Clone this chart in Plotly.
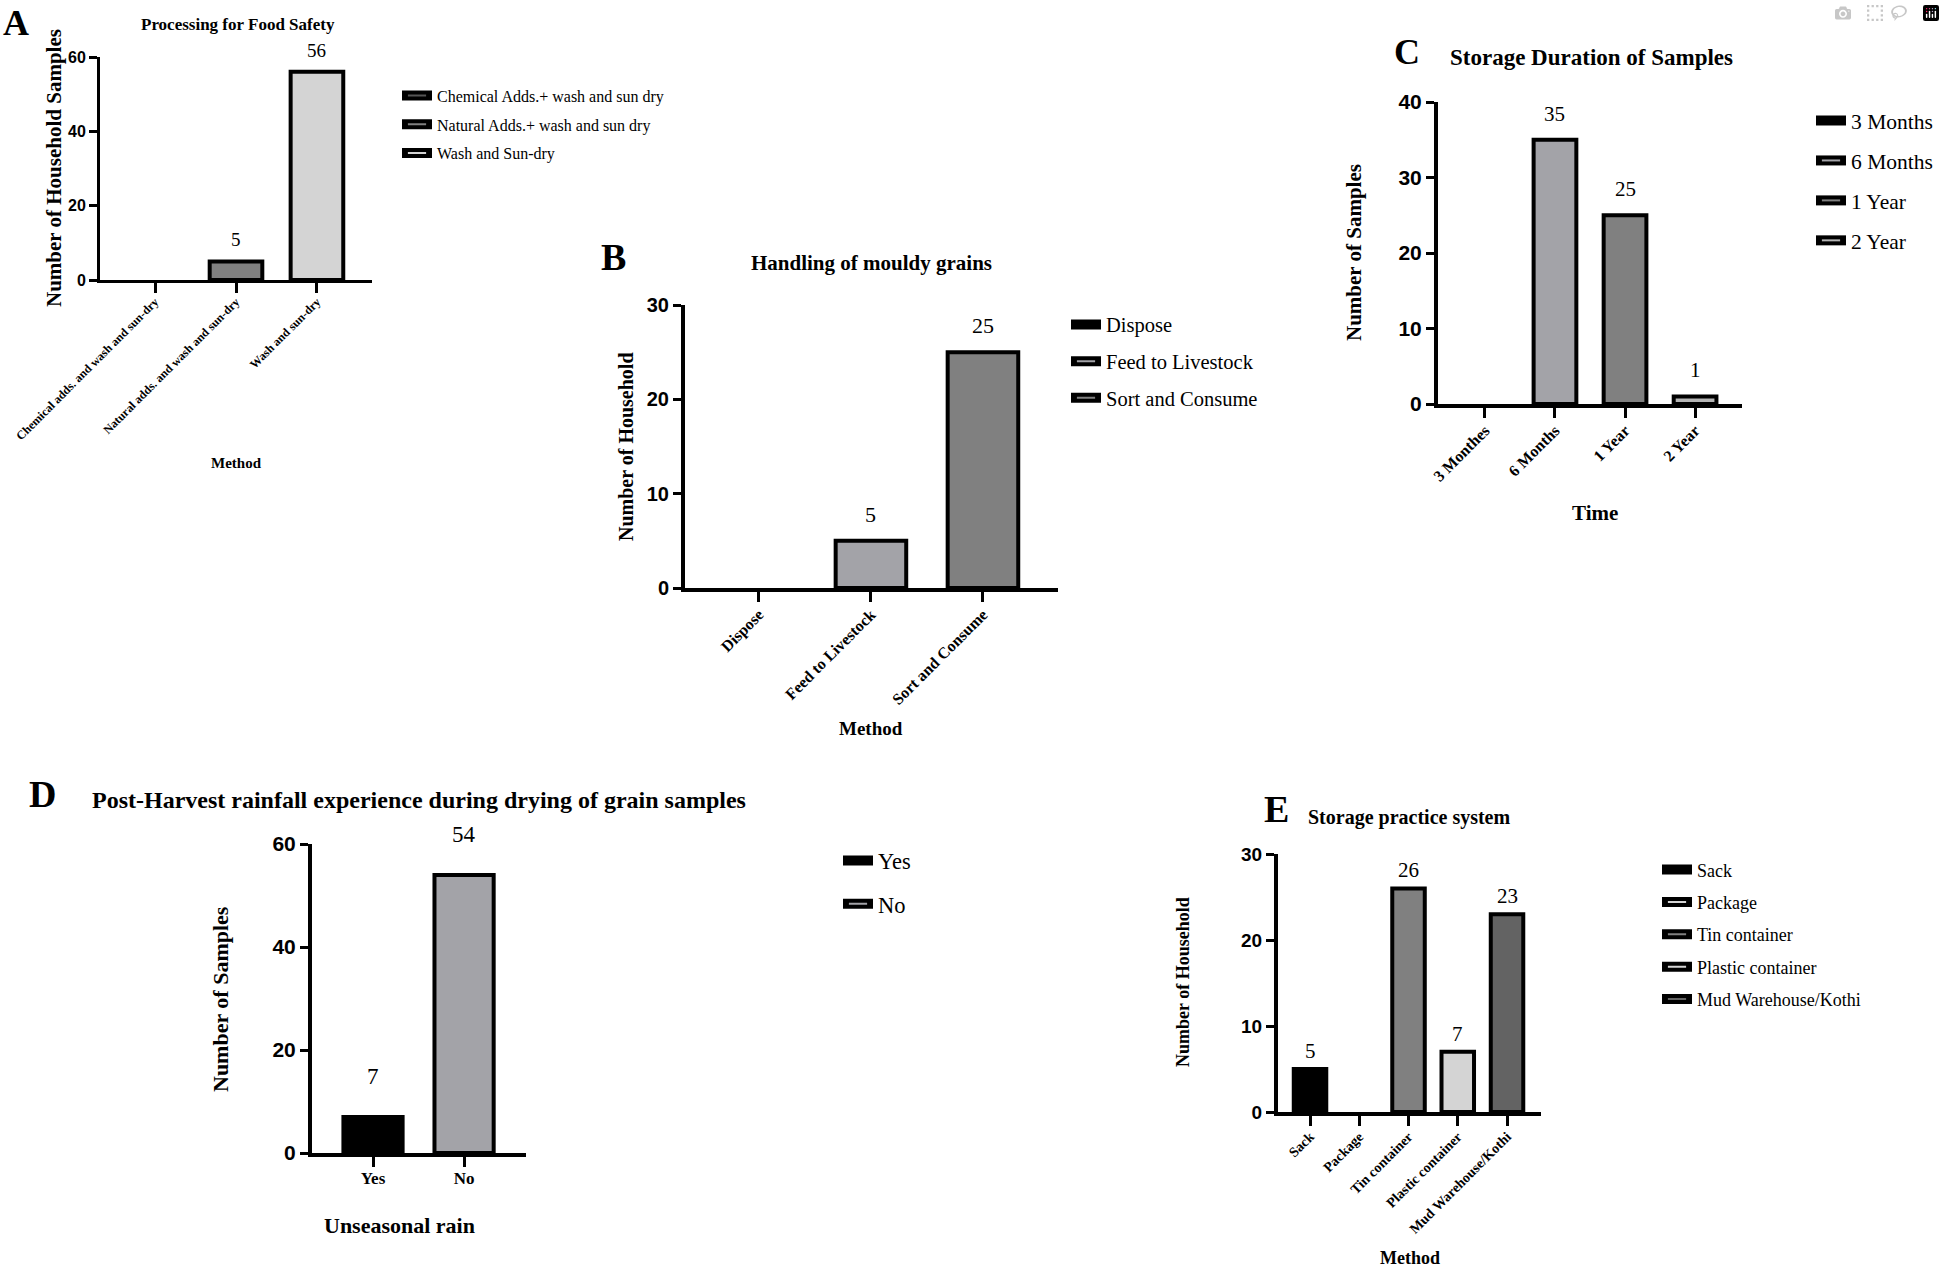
import plotly.graph_objects as go

W, H = 1945, 1265
SERIF = "Liberation Serif, Times New Roman, serif"
SANS = "Liberation Sans, Arial, sans-serif"

# A - processing for food safety
a_methods = ["Chemical adds. and wash and sun-dry", "Natural adds. and wash and sun-dry", "Wash and sun-dry"]
a_counts = [0, 5, 56]
a_legend = ["Chemical Adds.+ wash and sun dry", "Natural Adds.+ wash and sun dry", "Wash and Sun-dry"]
a_colors = ["#555555", "#808080", "#d4d4d4"]

# B - handling of mouldy grains
b_methods = ["Dispose", "Feed to Livestock", "Sort and Consume"]
b_counts = [0, 5, 25]
b_colors = ["#000000", "#a3a3a8", "#808080"]

# C - storage duration
c_times = ["3 Monthes", "6 Months", "1 Year", "2 Year"]
c_counts = [0, 35, 25, 1]
c_legend = ["3 Months", "6 Months", "1 Year", "2 Year"]
c_colors = ["#000000", "#a3a3a8", "#808080", "#b4b4b4"]

# D - unseasonal rain
d_answers = ["Yes", "No"]
d_counts = [7, 54]
d_colors = ["#000000", "#a3a3a8"]

# E - storage practice
e_methods = ["Sack", "Package", "Tin container", "Plastic container", "Mud Warehouse/Kothi"]
e_counts = [5, 0, 26, 7, 23]
e_colors = ["#000000", "#d4d4d4", "#808080", "#d4d4d4", "#636363"]


def px(x):
    return x / W


def py(y):
    return 1 - y / H


panels = [
    dict(letter="A", title="Processing for Food Safety", ytitle="Number of Household Samples", xtitle="Method",
         cats=a_methods, vals=a_counts, colors=a_colors, legend=a_legend,
         dx=(100, 372), dy=(57, 280), xr=[-0.68, 2.68], ymax=60, dtick=20, bw=0.65, angle=-45, lw=3,
         xfs=12, yfs=16, lfs=19, shift=9, leg=(397, 94, 16, 5),
         let_pos=(16, 1, 36), tit_pos=(238, 25, 17), yt_pos=(54, 168, 21), xt_pos=(236, 463, 15)),
    dict(letter="B", title="Handling of mouldy grains", ytitle="Number of Household", xtitle="Method",
         cats=b_methods, vals=b_counts, colors=b_colors, legend=b_methods,
         dx=(685, 1058), dy=(305, 588), xr=[-0.66, 2.67], ymax=30, dtick=10, bw=0.63, angle=-45, lw=4,
         xfs=16, yfs=20, lfs=22, shift=12, leg=(1066, 323, 20.5, 7),
         let_pos=(613, 257, 38), tit_pos=(871, 263, 21), yt_pos=(626, 447, 20), xt_pos=(871, 728, 19)),
    dict(letter="C", title="Storage Duration of Samples", ytitle="Number of Samples", xtitle="Time",
         cats=c_times, vals=c_counts, colors=c_colors, legend=c_legend,
         dx=(1438, 1742), dy=(102, 404), xr=[-0.67, 3.67], ymax=40, dtick=10, bw=0.61, angle=-45, lw=4,
         xfs=16, yfs=21, lfs=21, shift=12, leg=(1811, 119, 21.5, 9),
         let_pos=(1407, 52, 36), tit_pos=(1591, 58, 23), yt_pos=(1354, 253, 21), xt_pos=(1595, 513, 21)),
    dict(letter="D", title="Post-Harvest rainfall experience during drying of grain samples",
         ytitle="Number of Samples", xtitle="Unseasonal rain",
         cats=d_answers, vals=d_counts, colors=d_colors, legend=d_answers,
         dx=(312, 526), dy=(844, 1153), xr=[-0.67, 1.68], ymax=60, dtick=20, bw=0.65, angle=0, lw=4,
         xfs=17, yfs=21, lfs=23, shift=26, leg=(838, 859, 22.5, 11),
         let_pos=(42, 794, 38), tit_pos=(419, 800, 24), yt_pos=(220, 999, 22), xt_pos=(399, 1225, 22)),
    dict(letter="E", title="Storage practice system", ytitle="Number of Household", xtitle="Method",
         cats=e_methods, vals=e_counts, colors=e_colors, legend=e_methods,
         dx=(1278, 1541), dy=(854, 1112), xr=[-0.65, 4.69], ymax=30, dtick=10, bw=0.66, angle=-45, lw=4,
         xfs=14, yfs=19, lfs=21, shift=4, leg=(1657, 868, 18, 6),
         let_pos=(1276, 809, 38), tit_pos=(1409, 817, 20), yt_pos=(1183, 982, 18), xt_pos=(1410, 1258, 18)),
]

fig = go.Figure()
layout = {}

for n, p in enumerate(panels, start=1):
    sfx = "" if n == 1 else str(n)
    xa, ya = "x" + sfx, "y" + sfx
    leg_id = "legend" + sfx

    # zero counts are left out so no flat bar is drawn on the axis
    fig.add_trace(go.Bar(
        x=p["cats"], y=[v if v else None for v in p["vals"]], width=p["bw"],
        marker=dict(color=p["colors"], line=dict(color="black", width=4)),
        xaxis=xa, yaxis=ya, showlegend=False,
    ))

    # legend swatches: thick black bar with a thin line of the fill colour
    for name, col in zip(p["legend"], p["colors"]):
        fig.add_trace(go.Scatter(
            x=[None], y=[None], mode="lines+markers", name=name,
            line=dict(color="black", width=10),
            marker=dict(symbol="line-ew-open", size=13, color=col, line=dict(color=col, width=2)),
            xaxis=xa, yaxis=ya, legend=leg_id, legendgroup=name + sfx, hoverinfo="skip",
        ))

    lx, ly, lfs, gap = p["leg"]
    layout[leg_id] = dict(
        x=px(lx), y=py(ly - 5 - 0.65 * lfs), xanchor="left", yanchor="top",
        bgcolor="rgba(0,0,0,0)", borderwidth=0, tracegroupgap=gap,
        font=dict(family=SERIF, size=lfs, color="black"),
    )

    layout["xaxis" + sfx] = dict(
        domain=[px(p["dx"][0]), px(p["dx"][1])], anchor=ya, type="category",
        categoryorder="array", categoryarray=p["cats"], range=p["xr"],
        showline=True, linewidth=p["lw"], linecolor="black", showgrid=False, zeroline=False,
        ticks="outside", ticklen=10, tickwidth=3, tickcolor="black", tickangle=p["angle"],
        ticklabelstandoff=-3,
        tickfont=dict(family=SERIF, size=p["xfs"], color="black", weight="bold"),
        fixedrange=True,
    )
    layout["yaxis" + sfx] = dict(
        domain=[py(p["dy"][1]), py(p["dy"][0])], anchor=xa, range=[0, p["ymax"]], dtick=p["dtick"],
        showline=True, linewidth=p["lw"], linecolor="black", showgrid=False, zeroline=False,
        ticks="outside", ticklen=8, tickwidth=3, tickcolor="black",
        tickfont=dict(family=SANS, size=p["yfs"], color="black", weight="bold"),
        fixedrange=True,
    )

    # value labels above bars
    for cat, val in zip(p["cats"], p["vals"]):
        if val:
            fig.add_annotation(x=cat, y=val, xref=xa, yref=ya, text=str(val), showarrow=False,
                               yanchor="bottom", yshift=p["shift"],
                               font=dict(family=SERIF, size=p["lfs"], color="black"))

    # panel letter, title, axis titles
    texts = [
        (p["letter"], p["let_pos"], 0, "top" if n == 1 else "middle"),
        (p["title"], p["tit_pos"], 0, "middle"),
        (p["ytitle"], p["yt_pos"], -90, "middle"),
        (p["xtitle"], p["xt_pos"], 0, "middle"),
    ]
    for txt, (tx, ty, fs), ang, yanc in texts:
        fig.add_annotation(x=px(tx), y=py(ty), xref="paper", yref="paper", text=txt, showarrow=False,
                           textangle=ang, xanchor="center", yanchor=yanc,
                           font=dict(family=SERIF, size=fs, color="black", weight="bold"))

fig.update_layout(
    width=W, height=H, margin=dict(l=0, r=0, t=0, b=0, autoexpand=False),
    paper_bgcolor="white", plot_bgcolor="white",
    **layout,
)

fig.write_html("out.html", post_script="document.body.style.margin='0';")
